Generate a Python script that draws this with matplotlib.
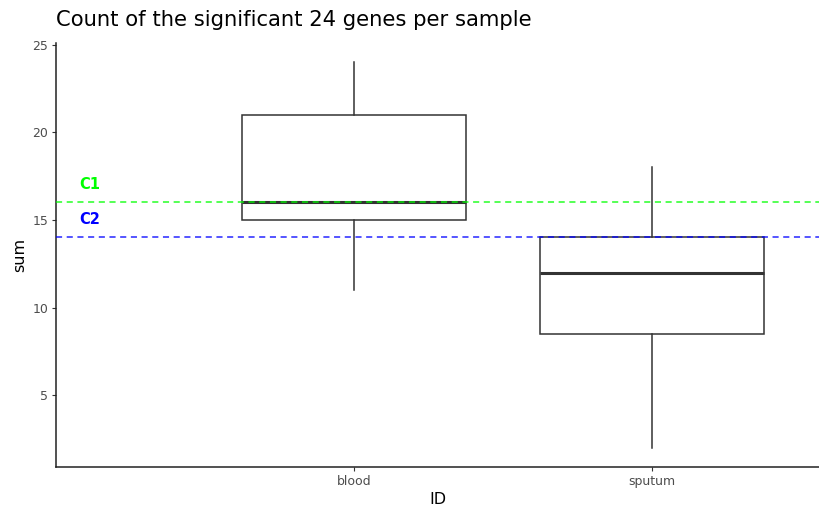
import matplotlib.pyplot as plt

# gene counts per sample type (five-number summaries)
groups = ['blood', 'sputum']
whisker_low = [11, 2]
q1 = [15, 8.5]
median = [16, 12]
q3 = [21, 14]
whisker_high = [24, 18]

cutoff_labels = ['C1', 'C2']
cutoff_values = [16, 14]
cutoff_colors = ['#00ff00', '#0000ff']

fig = plt.figure(figsize=(8.2, 5.08), dpi=100)
ax = fig.add_axes([56 / 820, 1 - 467 / 508, 1 - 56 / 820, (467 - 43) / 508])

stats = []
for i, g in enumerate(groups):
    stats.append({'label': g, 'whislo': whisker_low[i], 'q1': q1[i], 'med': median[i],
                  'q3': q3[i], 'whishi': whisker_high[i], 'fliers': []})

ax.bxp(stats, positions=[1, 2], widths=0.75, showcaps=False, patch_artist=True,
       boxprops=dict(facecolor='white', edgecolor='#333333', linewidth=1.1),
       whiskerprops=dict(color='#333333', linewidth=1.1),
       medianprops=dict(color='#333333', linewidth=2.2))

for lab, val, col in zip(cutoff_labels, cutoff_values, cutoff_colors):
    ax.axhline(val, color=col, linestyle=(0, (4, 3)), linewidth=1.1, alpha=0.85, zorder=5)
    ax.text(0.114, val + 1, lab, color=col, fontweight='bold', fontsize=10.5,
            ha='center', va='center')

ax.set_xlim(0, 2.564)
ax.set_ylim(0.9, 25.1)
ax.set_yticks([5, 10, 15, 20, 25])
ax.set_xticks([1, 2])
ax.set_xticklabels(groups)
ax.tick_params(colors='#333333', labelcolor='#4d4d4d', labelsize=9, length=3, width=0.8, pad=2.5)
for side in ['top', 'right']:
    ax.spines[side].set_visible(False)
for side in ['left', 'bottom']:
    ax.spines[side].set_linewidth(1.1)
    ax.spines[side].set_color('#222222')

ax.set_xlabel('ID', fontsize=11.5, labelpad=3)
ax.set_ylabel('sum', fontsize=11.5, labelpad=4)
ax.set_title('Count of the significant 24 genes per sample', fontsize=15.2, loc='left', pad=12)

fig.savefig('out.png', dpi=100)
